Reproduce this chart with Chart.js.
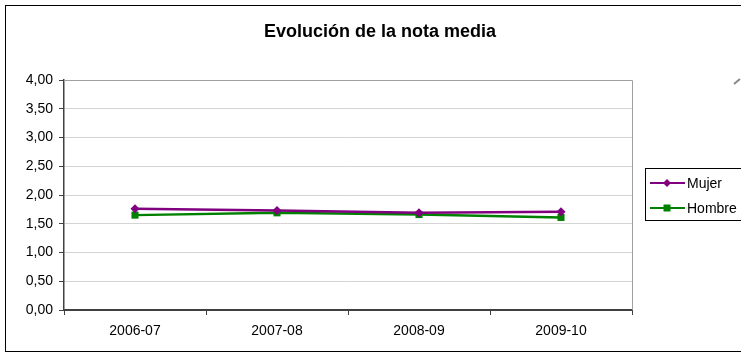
<!DOCTYPE html>
<html>
<head>
<meta charset="utf-8">
<script src="https://cdn.jsdelivr.net/npm/chart.js@4/dist/chart.umd.min.js"></script>
<style>
  html, body { margin: 0; padding: 0; background: #fff; }
  #wrap { width: 741px; height: 360px; }
</style>
</head>
<body>
<div id="wrap"><canvas id="myChart" width="741" height="360"></canvas></div>
<script>
// datos
var titulo = 'Evolución de la nota media';
var cursos = ['2006-07', '2007-08', '2008-09', '2009-10'];
var notaMujer = [1.76, 1.73, 1.69, 1.71];
var notaHombre = [1.65, 1.69, 1.66, 1.61];
var yTicks = [0, 0.5, 1, 1.5, 2, 2.5, 3, 3.5, 4];

var fuente = "'Liberation Sans', Arial, sans-serif";

// título, marco exterior, borde del área de trazado y leyenda con recuadro
var marcoPlugin = {
  id: 'marco',
  beforeDraw: function(chart) {
    var ctx = chart.ctx;
    ctx.save();
    ctx.fillStyle = '#fff';
    ctx.fillRect(0, 0, chart.width, chart.height);
    ctx.restore();
  },
  afterDraw: function(chart) {
    var ctx = chart.ctx;
    var a = chart.chartArea;
    ctx.save();
    // título centrado en el marco
    ctx.fillStyle = '#000';
    ctx.font = 'bold 18px ' + fuente;
    ctx.textAlign = 'center';
    ctx.textBaseline = 'middle';
    ctx.fillText(titulo, 380, 32);
    ctx.textAlign = 'left';

    // borde superior y derecho del área de trazado
    ctx.strokeStyle = '#a0a0a0';
    ctx.lineWidth = 1;
    ctx.beginPath();
    ctx.moveTo(a.left, Math.round(a.top) + 0.5);
    ctx.lineTo(Math.round(a.right) + 0.5, Math.round(a.top) + 0.5);
    ctx.lineTo(Math.round(a.right) + 0.5, a.bottom);
    ctx.stroke();

    // marco exterior
    ctx.strokeStyle = '#000';
    ctx.strokeRect(5.5, 5.5, 760, 346);

    // pequeña marca gris arriba a la derecha
    ctx.strokeStyle = '#888';
    ctx.lineWidth = 2;
    ctx.beginPath();
    ctx.moveTo(734, 84);
    ctx.lineTo(740, 79);
    ctx.stroke();

    // leyenda
    ctx.lineWidth = 1;
    ctx.strokeStyle = '#000';
    ctx.strokeRect(645.5, 168.5, 120, 52);
    ctx.font = '14px ' + fuente;
    ctx.textBaseline = 'middle';
    chart.data.datasets.forEach(function(ds, i) {
      var y = 183 + i * 25;
      ctx.strokeStyle = ds.borderColor;
      ctx.lineWidth = 2;
      ctx.beginPath();
      ctx.moveTo(650, y);
      ctx.lineTo(685, y);
      ctx.stroke();
      ctx.fillStyle = ds.backgroundColor;
      ctx.beginPath();
      if (ds.pointStyle === 'rectRot') {
        ctx.moveTo(667, y - 4);
        ctx.lineTo(671, y);
        ctx.lineTo(667, y + 4);
        ctx.lineTo(663, y);
        ctx.closePath();
      } else {
        ctx.rect(663.5, y - 3.5, 7, 7);
      }
      ctx.fill();
      ctx.fillStyle = '#000';
      ctx.fillText(ds.label, 687, y + 1);
    });
    ctx.restore();
  }
};

var ctx = document.getElementById('myChart').getContext('2d');
var myChart = new Chart(ctx, {
  type: 'line',
  data: {
    labels: cursos,
    datasets: [{
      label: 'Mujer',
      data: notaMujer,
      borderColor: '#800080',
      backgroundColor: '#800080',
      borderWidth: 2.5,
      pointStyle: 'rectRot',
      pointRadius: 4.5,
      pointBorderWidth: 0,
      tension: 0
    }, {
      label: 'Hombre',
      data: notaHombre,
      borderColor: '#008000',
      backgroundColor: '#008000',
      borderWidth: 2.5,
      pointStyle: 'rect',
      pointRadius: 5,
      pointBorderWidth: 0,
      tension: 0
    }]
  },
  options: {
    responsive: false,
    animation: false,
    devicePixelRatio: 1,
    layout: { padding: { left: 0, right: 109, top: 80, bottom: 0 } },
    plugins: {
      legend: { display: false },
      tooltip: { enabled: false },
      title: { display: false }
    },
    scales: {
      x: {
        offset: true,
        grid: {
          offset: true,
          drawOnChartArea: false,
          drawTicks: true,
          tickLength: 5,
          tickColor: '#404040'
        },
        border: { color: '#404040', width: 2 },
        ticks: {
          color: '#000',
          font: { family: fuente, size: 14 },
          padding: 8,
          maxRotation: 0
        },
        afterFit: function(scale) { scale.height = 50; }
      },
      y: {
        min: 0,
        max: 4,
        afterBuildTicks: function(scale) {
          scale.ticks = yTicks.map(function(v) { return { value: v }; });
        },
        grid: {
          color: function(c) { return c.tick && c.tick.value === 4 ? '#a0a0a0' : '#d4d4d4'; },
          tickLength: 5,
          tickColor: '#404040'
        },
        border: { color: '#404040', width: 1.5 },
        ticks: {
          color: '#000',
          font: { family: fuente, size: 14 },
          padding: 6,
          callback: function(v) { return Number(v).toFixed(2).replace('.', ','); }
        },
        afterFit: function(scale) { scale.width = 64; }
      }
    }
  },
  plugins: [marcoPlugin]
});
</script>
</body>
</html>
